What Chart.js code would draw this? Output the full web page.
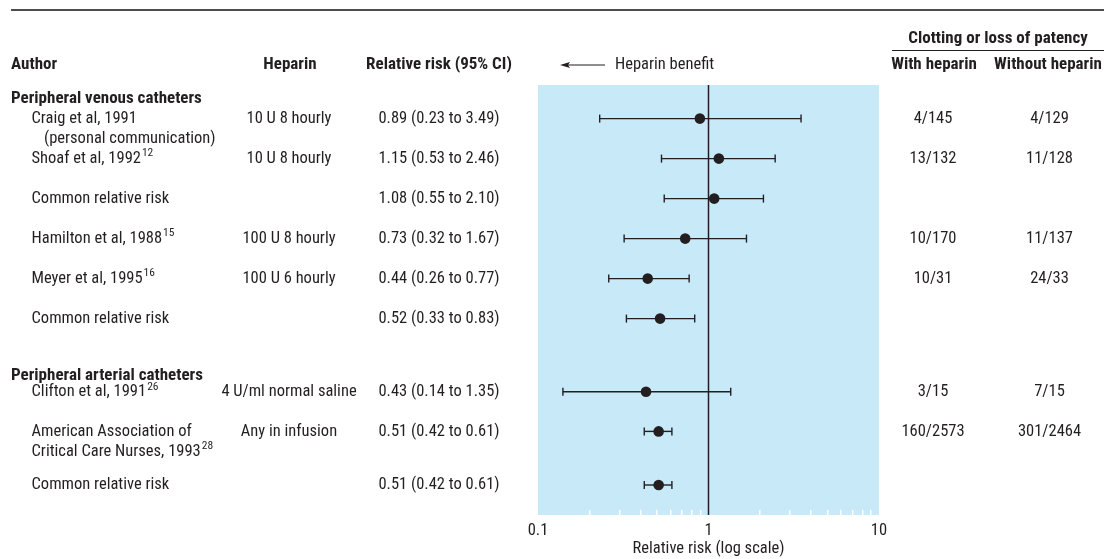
<!DOCTYPE html>
<html>
<head>
<meta charset="utf-8">
<script src="https://cdn.jsdelivr.net/npm/chart.js@4/dist/chart.umd.min.js"></script>
<style>
  html, body { margin: 0; padding: 0; background: #fff; }
  canvas { display: block; }
</style>
</head>
<body>
<canvas id="forest" width="1104" height="559"></canvas>
<script>
// studies, top to bottom
const authors = ['Craig et al, 1991', 'Shoaf et al, 1992', 'Common relative risk', 'Hamilton et al, 1988',
  'Meyer et al, 1995', 'Common relative risk', 'Clifton et al, 1991', 'American Association of', 'Common relative risk'];
const authorRefs = ['', '12', '', '15', '16', '', '26', '', ''];
const authorLine2 = ['(personal communication)', '', '', '', '', '', '', 'Critical Care Nurses, 1993', ''];
const line2Refs = ['', '', '', '', '', '', '', '28', ''];
const heparin = ['10 U 8 hourly', '10 U 8 hourly', '', '100 U 8 hourly', '100 U 6 hourly', '',
  '4 U/ml normal saline', 'Any in infusion', ''];
const relRisk = [0.89, 1.15, 1.08, 0.73, 0.44, 0.52, 0.43, 0.51, 0.51];
const lower = [0.23, 0.53, 0.55, 0.32, 0.26, 0.33, 0.14, 0.42, 0.42];
const upper = [3.49, 2.46, 2.10, 1.67, 0.77, 0.83, 1.35, 0.61, 0.61];
const withHeparin = ['4/145', '13/132', '', '10/170', '10/31', '', '3/15', '160/2573', ''];
const withoutHeparin = ['4/129', '11/128', '', '11/137', '24/33', '', '7/15', '301/2464', ''];
// row of each study on the table (row units)
const rowPos = [1, 2, 3, 4, 5, 6, 7.83, 8.82, 10.16];
const sections = ['Peripheral venous catheters', 'Peripheral arterial catheters'];
const sectionRows = [0.5, 7.43];

// x axis ticks
const tickValues = [0.1, 0.2, 0.3, 0.4, 0.5, 0.6, 0.7, 0.8, 0.9, 1, 2, 3, 4, 5, 6, 7, 8, 9, 10];
const tickLabels = [0.1, 1, 10];

const INK = '#231f20';
const FONT = '"Liberation Sans Narrow", "Arial Narrow", "Roboto Condensed", sans-serif';
const SIZE = 16.5;

function ciText(i) {
  return relRisk[i].toFixed(2) + ' (' + lower[i].toFixed(2) + ' to ' + upper[i].toFixed(2) + ')';
}

function write(ctx, str, x, y, align, bold, size) {
  ctx.font = (bold ? 'bold ' : '') + (size || (bold ? 17 : SIZE)) + 'px ' + FONT;
  ctx.textAlign = align || 'left';
  ctx.textBaseline = 'middle';
  ctx.fillText(str, x, y);
  return ctx.measureText(str).width;
}

function writeRef(ctx, str, ref, x, y) {
  const w = write(ctx, str, x, y, 'left');
  if (ref) write(ctx, ref, x + w + 1, y - 5, 'left', false, 11.5);
}

const tablePlugin = {
  id: 'table',
  beforeDraw(chart) {
    const { ctx, chartArea } = chart;
    ctx.save();
    ctx.fillStyle = '#c7e9f8';
    ctx.fillRect(chartArea.left, chartArea.top, chartArea.right - chartArea.left, chartArea.bottom - chartArea.top + 5);
    ctx.restore();
  },
  beforeDatasetsDraw(chart) {
    const { ctx, chartArea } = chart;
    const x = chart.scales.x.getPixelForValue(1);
    ctx.save();
    ctx.strokeStyle = INK;
    ctx.lineWidth = 1.5;
    ctx.beginPath();
    ctx.moveTo(x, chartArea.top);
    ctx.lineTo(x, chartArea.bottom + 5);
    ctx.stroke();
    ctx.restore();
  },
  afterDraw(chart) {
    const ctx = chart.ctx;
    const y = chart.scales.y;
    ctx.save();
    ctx.fillStyle = INK;
    ctx.strokeStyle = '#4d4d4d';

    // top rule
    ctx.lineWidth = 2;
    ctx.beginPath();
    ctx.moveTo(11, 10);
    ctx.lineTo(1104, 10);
    ctx.stroke();

    // headers
    write(ctx, 'Clotting or loss of patency', 998, 39, 'center', true);
    ctx.lineWidth = 1;
    ctx.strokeStyle = INK;
    ctx.beginPath();
    ctx.moveTo(892, 50.5);
    ctx.lineTo(1104, 50.5);
    ctx.stroke();
    write(ctx, 'Author', 11, 65, 'left', true);
    write(ctx, 'Heparin', 290, 65, 'center', true);
    write(ctx, 'Relative risk (95% CI)', 439, 65, 'center', true);
    write(ctx, 'With heparin', 934, 65, 'center', true);
    write(ctx, 'Without heparin', 1048, 65, 'center', true);

    // heparin benefit arrow
    ctx.lineWidth = 1.2;
    ctx.beginPath();
    ctx.moveTo(565, 65);
    ctx.lineTo(605, 65);
    ctx.stroke();
    ctx.beginPath();
    ctx.moveTo(560, 65);
    ctx.lineTo(570, 62);
    ctx.lineTo(568, 65);
    ctx.lineTo(570, 68);
    ctx.closePath();
    ctx.fill();
    write(ctx, 'Heparin benefit', 615, 65, 'left');

    sections.forEach((s, i) => write(ctx, s, 11, y.getPixelForValue(sectionRows[i]), 'left', true));

    authors.forEach((a, i) => {
      const py = y.getPixelForValue(rowPos[i]);
      writeRef(ctx, a, authorRefs[i], 31.5, py);
      if (authorLine2[i]) {
        const indent = authorLine2[i].startsWith('(') ? 44 : 31.5;
        writeRef(ctx, authorLine2[i], line2Refs[i], indent, y.getPixelForValue(rowPos[i] + 0.5));
      }
      if (heparin[i]) write(ctx, heparin[i], 289, py, 'center');
      write(ctx, ciText(i), 439, py, 'center');
      if (withHeparin[i]) write(ctx, withHeparin[i], 933, py, 'center');
      if (withoutHeparin[i]) write(ctx, withoutHeparin[i], 1049.5, py, 'center');
    });
    ctx.restore();
  }
};

const whiskers = relRisk.map((v, i) => ({
  data: [{ x: lower[i], y: rowPos[i] }, { x: upper[i], y: rowPos[i] }],
  showLine: true,
  borderColor: INK,
  borderWidth: 1.4,
  pointStyle: 'line',
  pointRadius: 4,
  pointRotation: 90,
  pointBorderColor: INK,
  pointBorderWidth: 1.4
}));

const points = {
  data: relRisk.map((v, i) => ({ x: v, y: rowPos[i] })),
  pointRadius: 5.3,
  pointBackgroundColor: INK,
  pointBorderWidth: 0
};

new Chart(document.getElementById('forest'), {
  type: 'scatter',
  data: { datasets: [points].concat(whiskers) },
  options: {
    responsive: false,
    animation: false,
    layout: { padding: { left: 538, right: 225, top: 85, bottom: 0 } },
    plugins: { legend: { display: false }, tooltip: { enabled: false } },
    scales: {
      x: {
        type: 'logarithmic',
        min: 0.1,
        max: 10,
        afterBuildTicks: scale => { scale.ticks = tickValues.map(v => ({ value: v })); },
        afterFit: scale => { scale.height = 49; },
        border: { display: false },
        grid: {
          drawOnChartArea: false,
          tickLength: 5,
          lineWidth: 1.5,
          color: c => tickLabels.includes(c.tick.value) ? 'rgba(0,0,0,0)' : '#ffffff'
        },
        ticks: {
          autoSkip: false,
          maxRotation: 0,
          padding: 6,
          color: INK,
          font: { family: FONT, size: 16.5 },
          callback: v => tickLabels.includes(v) ? String(v) : ''
        },
        title: {
          display: true,
          text: 'Relative risk (log scale)',
          color: INK,
          font: { family: FONT, size: 16.5 },
          padding: { top: 0, bottom: 0 }
        }
      },
      y: {
        type: 'linear',
        min: 0.16,
        max: 10.785,
        reverse: true,
        display: false
      }
    }
  },
  plugins: [tablePlugin]
});
</script>
</body>
</html>
